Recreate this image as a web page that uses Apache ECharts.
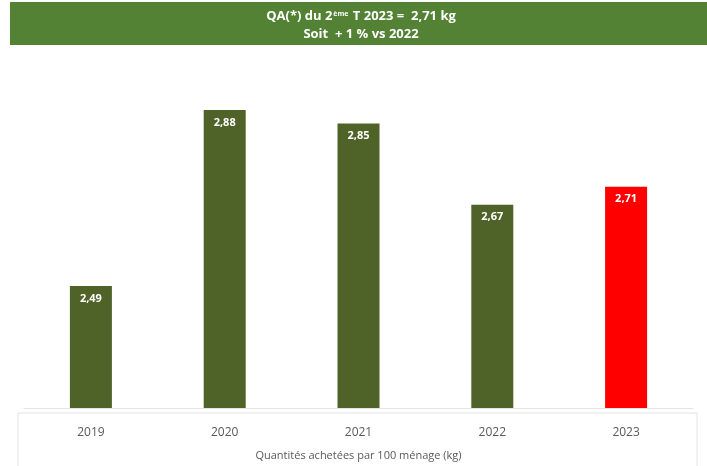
<!DOCTYPE html>
<html>
<head>
<meta charset="utf-8">
<script src="https://cdn.jsdelivr.net/npm/echarts@6/dist/echarts.min.js"></script>
<style>
    html, body {margin: 0; padding: 0; background: #fff;}
    #chart {width: 707px; height: 466px;}
</style>
</head>
<body>
<div id="chart"></div>
<script>
const years = ['2019', '2020', '2021', '2022', '2023'];
const values = [2.49, 2.88, 2.85, 2.67, 2.71];
const barColors = ['#4f6228', '#4f6228', '#4f6228', '#4f6228', '#ff0000'];
const axisTitle = 'Quantités achetées par 100 ménage (kg)';

const chartDom = document.getElementById('chart');
const myChart = echarts.init(chartDom);

const option = {
    animation: false,
    textStyle: {fontFamily: 'Open Sans'},
    graphic: [
        {
            type: 'rect',
            shape: {x: 10, y: 2, width: 697, height: 43},
            style: {fill: '#548235'},
            z: -1
        },
        {
            type: 'rect',
            shape: {x: 18, y: 413, width: 679, height: 60},
            style: {fill: 'none', stroke: '#e3e3e3', lineWidth: 1},
            z: -1
        }
    ],
    title: {
        text: '{a|QA(*) du 2}{s|ème}{a| T 2023 =  2,71 kg}\n{a|Soit  + 1 % vs 2022}',
        left: 356,
        top: 2,
        textAlign: 'center',
        textStyle: {
            rich: {
                a: {color: '#fff', fontWeight: 'bold', fontSize: 13, lineHeight: 18, fontFamily: 'Open Sans'},
                s: {color: '#fff', fontWeight: 'bold', fontSize: 7, lineHeight: 18, verticalAlign: 'top', padding: [3, 1, 0, 1], fontFamily: 'Open Sans'}
            }
        }
    },
    grid: {left: 24, right: 14, top: 101, bottom: 53},
    xAxis: {
        type: 'category',
        data: years,
        name: axisTitle,
        nameLocation: 'middle',
        nameGap: 42,
        nameTextStyle: {color: '#595959', fontSize: 11},
        axisLine: {lineStyle: {color: '#e3e3e3'}},
        axisTick: {show: false},
        axisLabel: {color: '#595959', fontSize: 12, margin: 19}
    },
    yAxis: {
        type: 'value',
        min: 2.22,
        max: 2.9,
        show: false
    },
    series: [{
        type: 'bar',
        barWidth: 42,
        data: values.map((v, i) => ({value: v, itemStyle: {color: barColors[i]}})),
        label: {
            show: true,
            position: 'insideTop',
            distance: 7,
            color: '#fff',
            fontWeight: 'bold',
            fontSize: 11,
            formatter: p => p.value.toFixed(2).replace('.', ',')
        }
    }]
};

option && myChart.setOption(option);

window.addEventListener('resize', function () {
    myChart.resize();
});
</script>
</body>
</html>
